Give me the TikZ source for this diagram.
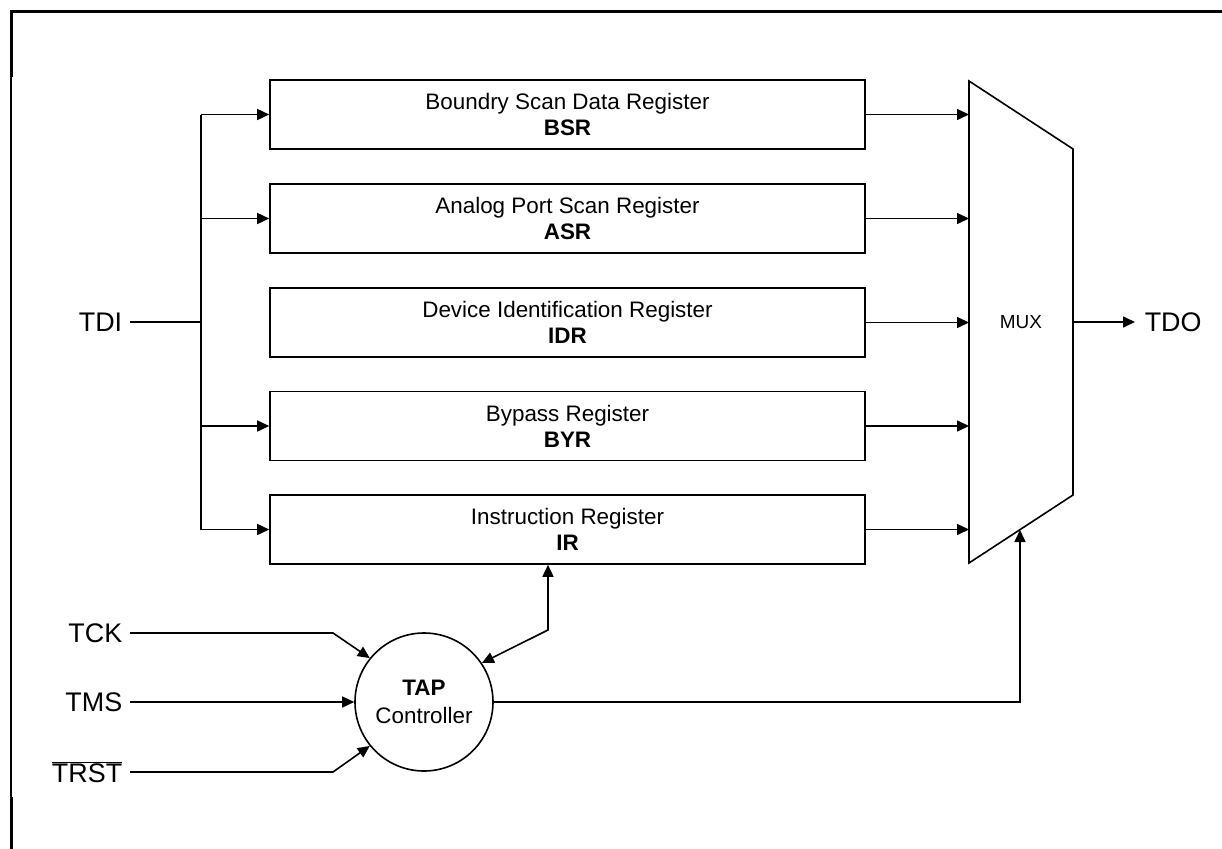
\documentclass[tikz,border=0pt]{standalone}
\usepackage{fontspec}
\setmainfont{Liberation Sans}
\usetikzlibrary{arrows.meta,calc}
\begin{document}
\begin{tikzpicture}[x=1bp,y=-1bp,
  line width=1.6bp,
  arr/.style={-{Triangle[length=12bp,width=11bp]}},
  arrb/.style={{Triangle[length=12bp,width=11bp]}-{Triangle[length=12bp,width=11bp]}},
  reg/.style={draw,rectangle,minimum width=595bp,minimum height=69bp,inner sep=0pt,align=center,font=\fontsize{22.5}{26}\selectfont},
  lbl/.style={inner xsep=7bp,inner ysep=0pt,font=\fontsize{27}{30}\selectfont},
  tapst/.style={draw,circle,minimum size=138bp,inner sep=0pt,align=center,font=\fontsize{22.5}{28}\selectfont}
]
\useasboundingbox (0,0) rectangle (1222,849);
% frame
\draw[line width=3bp] (11,849) -- (11,797);
\draw[line width=1.2bp] (11,797) -- (11,75);
\draw[line width=3bp,line cap=rect] (11,75) -- (11,11) -- (1222,11);

% registers
\node[reg] (bsr) at (567.5,114.5) {Boundry Scan Data Register\\\textbf{BSR}};
\node[reg] (asr) at (567.5,218.5) {Analog Port Scan Register\\\textbf{ASR}};
\node[reg] (idr) at (567.5,322.5) {Device Identification Register\\\textbf{IDR}};
\node[reg] (byr) at (567.5,426) {Bypass Register\\\textbf{BYR}};
\node[reg] (ir)  at (567.5,529.5) {Instruction Register\\\textbf{IR}};

% MUX
\coordinate (m1) at (969,81);
\coordinate (m2) at (1073,149);
\coordinate (m3) at (1073,495);
\coordinate (m4) at (969,563);
\draw[line join=miter] (m1) -- (m2) -- (m3) -- (m4) -- cycle;
\node[font=\fontsize{19}{22}\selectfont] (mux) at (1021,322) {MUX};
\coordinate (muxL) at (969,322);
\coordinate (muxR) at (1073,322);
\coordinate (muxin) at (1020,530);

% TDI bus
\node[lbl,anchor=east] (tdi) at (130,322) {TDI};
\coordinate (bus) at (201,322);
\draw (tdi.east) -- (bus);
\draw (bus |- bsr.west) -- (bus |- ir.west);
\foreach \r in {bsr,asr,byr,ir} {
  \draw[arr] (bus |- \r.west) -- (\r.west);
}
\foreach \r in {bsr,asr,idr,byr,ir} {
  \draw[arr] (\r.east) -- (\r.east -| muxL);
}

% TDO
\node[lbl,anchor=west,inner xsep=9bp] (tdo) at (1135,322) {TDO};
\draw[arr] (muxR) -- (tdo.west);

% TAP controller
\node[tapst] (tap) at (424,702) {\textbf{TAP}\\Controller};

\node[lbl,anchor=east] (tck) at (130,633) {TCK};
\node[lbl,anchor=east] (tms) at (130,702) {TMS};
\node[lbl,anchor=east] (trst) at (130,772) {$\overline{\mbox{TRST}}$};
\coordinate (tckb) at (333,633);
\coordinate (trstb) at (333,772);
\draw[arr] (tck.east) -- (tckb) -- (tap.141);
\draw[arr] (tms.east) -- (tap.west);
\draw[arr] (trst.east) -- (trstb) -- (tap.219);

\coordinate (irb) at (548,630);
\draw[arrb] (tap.34) -- (irb) -- (irb |- ir.south);

\draw[arr] (tap.east) -- (tap.east -| muxin) -- (muxin);
\end{tikzpicture}
\end{document}
